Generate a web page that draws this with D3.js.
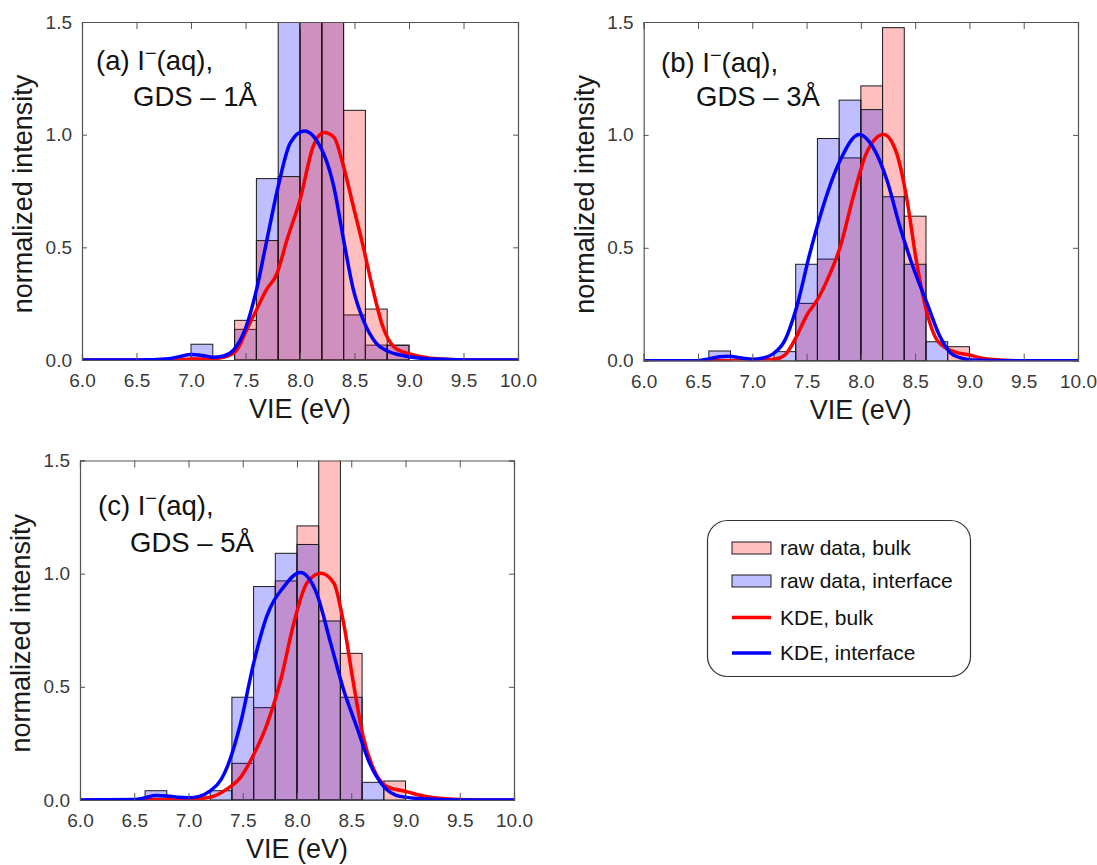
<!DOCTYPE html>
<html>
<head>
<meta charset="utf-8">
<script src="https://cdn.jsdelivr.net/npm/d3@7"></script>
<style>
  html, body { margin: 0; padding: 0; background: #fff; }
  svg { display: block; font-family: "Liberation Sans", Arial, sans-serif; }
</style>
</head>
<body>
<svg id="chart" width="1097" height="865"></svg>
<script>
// Histogram bin edges (eV), shared by all panels
const binEdges = [6.6, 6.8, 7.0, 7.2, 7.4, 7.6, 7.8, 8.0, 8.2, 8.4, 8.6, 8.8, 9.0];

// Normalized counts per bin
const bulkA      = [0, 0, 0, 0, 0.176, 0.53, 0.814, 2.0, 1.8, 1.108, 0.226, 0.065];
const interfaceA = [0, 0, 0.07, 0, 0.136, 0.805, 1.7, 2.0, 1.9, 0.2, 0.066, 0.066];
const bulkB      = [0, 0, 0, 0, 0.254, 0.45, 0.898, 1.217, 1.475, 0.64, 0, 0.062];
const interfaceB = [0.043, 0, 0, 0.04, 0.427, 0.984, 1.154, 1.112, 0.726, 0.427, 0.084, 0];
const bulkC      = [0, 0, 0, 0, 0.162, 0.408, 0.968, 1.211, 1.9, 0.648, 0, 0.084];
const interfaceC = [0.041, 0, 0, 0.041, 0.454, 0.943, 1.09, 1.129, 0.791, 0.454, 0.078, 0];

// Kernel density estimates, [VIE (eV), density]
const kdeBulkA = [[6.0,0],[6.8,0],[7.0,0.004],[7.2,0.006],[7.3,0.012],[7.42,0.044],[7.51,0.133],
  [7.6,0.222],[7.69,0.31],[7.79,0.385],[7.88,0.533],[8.0,0.71],[8.12,0.947],[8.22,1.01],
  [8.31,0.99],[8.4,0.858],[8.49,0.68],[8.58,0.503],[8.67,0.311],[8.76,0.148],[8.86,0.059],
  [8.98,0.03],[9.1,0.016],[9.3,0.004],[9.6,0],[10.0,0]];
const kdeInterfaceA = [[6.0,0],[6.5,0],[6.8,0.006],[6.9,0.016],[7.0,0.024],[7.1,0.02],[7.2,0.012],
  [7.3,0.018],[7.39,0.044],[7.5,0.14],[7.6,0.31],[7.69,0.518],[7.8,0.77],[7.91,0.962],
  [8.04,1.016],[8.15,0.976],[8.31,0.769],[8.4,0.533],[8.49,0.311],[8.58,0.178],[8.7,0.074],
  [8.8,0.04],[8.92,0.022],[9.22,0.004],[9.6,0],[10.0,0]];
const kdeBulkB = [[6.0,0],[6.8,0],[7.0,0.002],[7.2,0.006],[7.3,0.025],[7.4,0.1],[7.5,0.2],
  [7.6,0.27],[7.69,0.357],[7.81,0.504],[7.93,0.726],[8.05,0.918],[8.21,1.002],[8.33,0.918],
  [8.42,0.726],[8.51,0.446],[8.61,0.21],[8.7,0.092],[8.82,0.047],[9.0,0.025],[9.19,0.006],
  [9.5,0],[10.0,0]];
const kdeInterfaceB = [[6.0,0],[6.5,0],[6.6,0.008],[6.7,0.018],[6.78,0.02],[6.9,0.012],[7.0,0.006],
  [7.1,0.012],[7.2,0.033],[7.3,0.09],[7.41,0.24],[7.53,0.475],[7.65,0.68],[7.81,0.888],
  [7.985,1.002],[8.11,0.947],[8.24,0.8],[8.36,0.593],[8.48,0.416],[8.61,0.254],[8.73,0.106],
  [8.85,0.025],[9.03,0.003],[9.3,0],[10.0,0]];
const kdeBulkC = [[6.0,0],[7.0,0.003],[7.2,0.012],[7.36,0.05],[7.48,0.1],[7.6,0.2],[7.72,0.33],
  [7.85,0.53],[7.97,0.78],[8.09,0.958],[8.22,1.002],[8.34,0.958],[8.43,0.78],[8.52,0.516],
  [8.61,0.28],[8.71,0.133],[8.83,0.059],[9.01,0.037],[9.2,0.014],[9.4,0.004],[9.7,0],[10.0,0]];
const kdeInterfaceC = [[6.0,0],[6.5,0.002],[6.6,0.01],[6.7,0.02],[6.8,0.018],[6.9,0.012],[7.0,0.01],
  [7.1,0.016],[7.2,0.04],[7.3,0.09],[7.36,0.15],[7.48,0.339],[7.6,0.604],[7.72,0.81],
  [7.88,0.943],[8.03,1.005],[8.18,0.914],[8.31,0.693],[8.43,0.486],[8.55,0.324],[8.67,0.162],
  [8.8,0.059],[8.95,0.016],[9.2,0.004],[9.5,0],[10.0,0]];

// Axis ticks
const xTicks = [6.0, 6.5, 7.0, 7.5, 8.0, 8.5, 9.0, 9.5, 10.0];
const yTicks = [0.0, 0.5, 1.0, 1.5];

// Panel titles (label, species, second line) and legend entries
const panelTitles = [["(a) I", "(aq),", "GDS \u2013 1\u00C5"],
                     ["(b) I", "(aq),", "GDS \u2013 3\u00C5"],
                     ["(c) I", "(aq),", "GDS \u2013 5\u00C5"]];
const legendLabels = ["raw data, bulk", "raw data, interface", "KDE, bulk", "KDE, interface"];

const svg = d3.select("#chart");
const FRAME = "#555";
const TICKTXT = "#3a3a3a";
const RED = "#ff0000", BLUE = "#0000ff";
const RED_FILL = "rgba(255,0,0,0.25)", BLUE_FILL = "rgba(0,0,255,0.25)";

const panels = [
  { key: "a", x0: 82, x1: 518, y0: 22, y1: 360, bulk: bulkA, iface: interfaceA,
    kb: kdeBulkA, ki: kdeInterfaceA, title: panelTitles[0], redOnTop: true,
    tx: 96, ty: 70, tx2: 133, ty2: 106 },
  { key: "b", x0: 643.7, x1: 1078, y0: 22, y1: 360.7, bulk: bulkB, iface: interfaceB,
    kb: kdeBulkB, ki: kdeInterfaceB, title: panelTitles[1], redOnTop: false,
    tx: 661, ty: 72, tx2: 696, ty2: 106 },
  { key: "c", x0: 80, x1: 514, y0: 460.5, y1: 800, bulk: bulkC, iface: interfaceC,
    kb: kdeBulkC, ki: kdeInterfaceC, title: panelTitles[2], redOnTop: false,
    tx: 98, ty: 515, tx2: 130, ty2: 552 }
];

panels.forEach(p => {
  const x = d3.scaleLinear().domain([6, 10]).range([p.x0, p.x1]);
  const y = d3.scaleLinear().domain([0, 1.5]).range([p.y1, p.y0]);
  const g = svg.append("g");

  const clipId = "clip-" + p.key;
  svg.append("clipPath").attr("id", clipId)
    .append("rect").attr("x", p.x0).attr("y", p.y0)
    .attr("width", p.x1 - p.x0).attr("height", p.y1 - p.y0);

  const plot = g.append("g").attr("clip-path", `url(#${clipId})`);

  const drawBars = (vals, fill) => {
    const bins = vals.map((v, i) => ({ a: binEdges[i], b: binEdges[i + 1], v }))
                     .filter(d => d.v > 0);
    plot.append("g").selectAll("rect").data(bins).join("rect")
      .attr("x", d => x(d.a))
      .attr("width", d => x(d.b) - x(d.a))
      .attr("y", d => y(d.v))
      .attr("height", d => y(0) - y(d.v))
      .attr("fill", fill)
      .attr("stroke", "#1a1a1a")
      .attr("stroke-width", 1);
  };
  if (p.redOnTop) { drawBars(p.iface, BLUE_FILL); drawBars(p.bulk, RED_FILL); }
  else { drawBars(p.bulk, RED_FILL); drawBars(p.iface, BLUE_FILL); }

  const line = d3.line().x(d => x(d[0])).y(d => y(d[1])).curve(d3.curveMonotoneX);
  plot.append("path").datum(p.kb).attr("d", line)
    .attr("fill", "none").attr("stroke", RED).attr("stroke-width", 3.5)
    .attr("stroke-linejoin", "round");
  plot.append("path").datum(p.ki).attr("d", line)
    .attr("fill", "none").attr("stroke", BLUE).attr("stroke-width", 3.5)
    .attr("stroke-linejoin", "round");

  // Frame with inward ticks on all four sides
  const fmt = d3.format(".1f");
  const bottom = d3.axisBottom(x).tickValues(xTicks).tickSize(-7).tickPadding(14).tickFormat(fmt);
  const top = d3.axisTop(x).tickValues(xTicks).tickSize(-7).tickFormat("");
  const left = d3.axisLeft(y).tickValues(yTicks).tickSize(-5).tickPadding(10).tickFormat(fmt);
  const right = d3.axisRight(y).tickValues(yTicks).tickSize(-5).tickFormat("");

  const styleAxis = sel => {
    sel.select(".domain").attr("stroke", FRAME).attr("stroke-width", 1.2);
    sel.selectAll(".tick line").attr("stroke", FRAME).attr("stroke-width", 1);
    sel.selectAll(".tick text").attr("fill", TICKTXT).attr("font-size", 19)
      .attr("font-family", "Liberation Sans, Arial, sans-serif");
  };
  g.append("g").attr("transform", `translate(0,${p.y1})`).call(bottom).call(styleAxis);
  g.append("g").attr("transform", `translate(0,${p.y0})`).call(top).call(styleAxis);
  g.append("g").attr("transform", `translate(${p.x0},0)`).call(left).call(styleAxis);
  g.append("g").attr("transform", `translate(${p.x1},0)`).call(right).call(styleAxis);

  // Axis titles
  g.append("text").attr("x", (p.x0 + p.x1) / 2).attr("y", p.y1 + 58)
    .attr("text-anchor", "middle").attr("font-size", 27).attr("fill", "#1a1a1a")
    .text("VIE (eV)");
  g.append("text")
    .attr("transform", `translate(${p.x0 - 50},${(p.y0 + p.y1) / 2 + 3}) rotate(-90)`)
    .attr("text-anchor", "middle").attr("font-size", 27).attr("fill", "#1a1a1a")
    .text("normalized intensity");

  // Panel title: "(x) I⁻(aq)," with a raised minus sign, then the GDS line
  const t1 = g.append("text").attr("x", p.tx).attr("y", p.ty).attr("font-size", 27.5).attr("fill", "#111");
  t1.append("tspan").text(p.title[0]);
  t1.append("tspan").attr("dy", -10).attr("font-size", 20).text("\u2212");
  t1.append("tspan").attr("dy", 10).text(p.title[1]);
  g.append("text").attr("x", p.tx2).attr("y", p.ty2).attr("font-size", 27.5).attr("fill", "#111")
    .text(p.title[2]);
});

// Legend
const lg = svg.append("g");
lg.append("rect").attr("x", 707.5).attr("y", 520.5).attr("width", 263).attr("height", 156)
  .attr("rx", 20).attr("ry", 20).attr("fill", "#fff").attr("stroke", "#333").attr("stroke-width", 1.2);
const rowY = [548, 581, 617.5, 653];
const swatch = [
  { type: "rect", fill: RED_FILL },
  { type: "rect", fill: BLUE_FILL },
  { type: "line", color: RED },
  { type: "line", color: BLUE }
];
legendLabels.forEach((lab, i) => {
  const s = swatch[i];
  if (s.type === "rect") {
    lg.append("rect").attr("x", 732).attr("y", rowY[i] - 6).attr("width", 39).attr("height", 12)
      .attr("fill", s.fill).attr("stroke", "#1a1a1a").attr("stroke-width", 1);
  } else {
    lg.append("line").attr("x1", 732).attr("x2", 771).attr("y1", rowY[i]).attr("y2", rowY[i])
      .attr("stroke", s.color).attr("stroke-width", 3.5);
  }
  lg.append("text").attr("x", 780).attr("y", rowY[i]).attr("dy", "0.35em")
    .attr("font-size", 21).attr("fill", "#111").text(lab);
});
</script>
</body>
</html>
